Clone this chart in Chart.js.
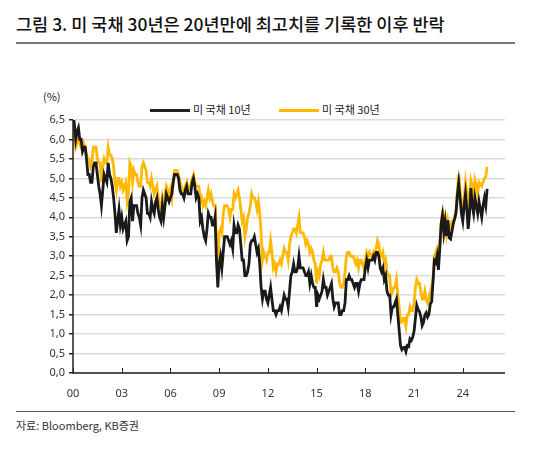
<!DOCTYPE html>
<html><head><meta charset="utf-8">
<script src="https://cdn.jsdelivr.net/npm/chart.js@4"></script>
<style>
body{margin:0;width:550px;height:455px;background:#fff;font-family:"Noto Sans CJK KR","Noto Sans",sans-serif;position:relative;overflow:hidden}
.t{position:absolute;white-space:nowrap;color:#222}
#wrap{position:absolute;left:0;top:0;width:550px;height:455px}
</style></head><body>
<div class="t" style="left:16px;top:11px;font-size:17.5px;font-weight:500;color:#111">그림 3. 미 국채 30년은 20년만에 최고치를 기록한 이후 반락</div>
<div style="position:absolute;left:16px;top:42px;width:499px;height:1.5px;background:#777"></div>
<div class="t" style="left:43px;top:88px;font-size:11px">(%)</div>
<div style="position:absolute;left:150px;top:109px;width:40px;height:3px;background:#222"></div>
<div class="t" style="left:193px;top:101px;font-size:11px">미 국채 10년</div>
<div style="position:absolute;left:279px;top:109px;width:40px;height:3px;background:#ffb900"></div>
<div class="t" style="left:322px;top:101px;font-size:11px">미 국채 30년</div>
<div style="position:absolute;left:16px;top:411px;width:499px;height:1px;background:#555"></div>
<div class="t" style="left:16px;top:417px;font-size:11px;color:#333">자료: Bloomberg, KB증권</div>
<div id="wrap"><canvas id="c" width="550" height="455"></canvas></div>
<script>
const startYear = 2000;
const y10Monthly = [
6.7,6.4,6.0,6.2,6.3,6.0,6.0,5.7,5.8,5.8,5.5,5.1,
5.1,4.9,4.9,5.3,5.4,5.4,5.1,4.8,4.6,4.3,4.7,5.1,
5.0,4.9,5.4,5.1,5.0,4.8,4.5,4.1,3.6,3.9,4.2,3.8,
4.0,3.7,3.8,3.9,3.4,3.5,4.4,4.5,3.9,4.3,4.3,4.3,
4.1,4.0,3.8,4.5,4.7,4.6,4.5,4.1,4.1,4.0,4.4,4.2,
4.1,4.4,4.5,4.2,4.0,3.9,4.3,4.0,4.3,4.6,4.5,4.4,
4.5,4.6,4.9,5.1,5.1,5.1,5.0,4.7,4.6,4.6,4.5,4.7,
4.8,4.6,4.6,4.6,4.9,5.0,4.8,4.5,4.6,4.5,3.9,4.0,
3.7,3.5,3.4,3.7,4.1,4.0,4.0,3.8,3.8,4.0,2.9,2.2,
2.8,3.0,2.7,3.1,3.5,3.5,3.5,3.4,3.3,3.4,3.2,3.8,
3.6,3.6,3.8,3.7,3.3,2.9,2.9,2.5,2.5,2.6,2.8,3.3,
3.4,3.4,3.5,3.3,3.1,3.2,2.8,2.2,1.9,2.1,2.1,1.9,
1.8,2.0,2.2,1.9,1.6,1.6,1.5,1.6,1.6,1.7,1.6,1.8,
2.0,1.9,1.9,1.7,2.1,2.5,2.6,2.8,2.6,2.6,2.7,3.0,
2.7,2.7,2.7,2.6,2.5,2.5,2.6,2.3,2.5,2.3,2.2,2.2,
1.7,2.0,1.9,2.0,2.1,2.4,2.2,2.2,2.0,2.1,2.2,2.3,
1.9,1.7,1.8,1.8,1.8,1.5,1.5,1.6,1.6,1.8,2.4,2.4,
2.5,2.4,2.4,2.3,2.2,2.3,2.3,2.1,2.3,2.4,2.4,2.4,
2.7,2.9,2.7,2.9,2.9,2.9,3.0,2.9,3.1,3.1,3.0,2.7,
2.6,2.7,2.4,2.5,2.1,2.0,2.0,1.5,1.7,1.7,1.8,1.9,
1.5,1.1,0.7,0.6,0.65,0.66,0.55,0.7,0.68,0.88,0.84,0.92,
1.07,1.4,1.74,1.63,1.58,1.45,1.22,1.3,1.49,1.55,1.44,1.51,
1.78,1.83,2.34,2.89,2.84,3.01,2.65,3.19,3.83,4.05,3.61,3.88,
3.52,3.92,3.47,3.44,3.64,3.84,3.96,4.11,4.57,4.88,4.5,4.1,
3.9,4.3,4.6,4.2,3.7,4.1,4.75,4.3,4.1,4.5,4.3,4.1,
4.4,4.2,4.0,4.3,4.5,4.3,4.73
];
const y30Monthly = [
6.6,6.2,5.8,5.9,6.0,5.9,5.8,5.7,5.9,5.8,5.6,5.5,
5.5,5.3,5.4,5.8,5.8,5.8,5.5,5.4,5.4,4.9,5.3,5.5,
5.4,5.4,5.8,5.6,5.6,5.5,5.3,4.9,4.7,5.0,5.0,4.8,
4.9,4.7,4.8,4.9,4.4,4.6,5.4,5.3,4.9,5.2,5.1,5.1,
4.9,4.8,4.8,5.3,5.4,5.3,5.2,4.9,4.9,4.8,5.0,4.8,
4.6,4.7,4.8,4.5,4.3,4.2,4.5,4.3,4.6,4.8,4.7,4.5,
4.7,4.5,4.9,5.2,5.2,5.2,5.1,4.9,4.8,4.7,4.6,4.8,
4.9,4.7,4.8,4.8,5.0,5.1,4.9,4.8,4.8,4.8,4.4,4.5,
4.3,4.4,4.3,4.5,4.7,4.5,4.6,4.4,4.3,4.3,3.4,2.7,
3.6,3.7,3.6,4.1,4.3,4.3,4.3,4.2,4.0,4.2,4.2,4.6,
4.5,4.6,4.7,4.5,4.2,3.9,4.0,3.5,3.7,4.0,4.1,4.3,
4.6,4.5,4.5,4.4,4.2,4.4,4.1,3.6,2.9,3.1,3.0,2.9,
3.1,3.1,3.4,3.1,2.7,2.8,2.6,2.8,2.8,2.9,2.8,3.0,
3.2,3.1,3.1,2.9,3.3,3.5,3.6,3.7,3.7,3.6,3.8,4.0,
3.6,3.6,3.6,3.5,3.3,3.4,3.3,3.1,3.2,3.1,2.9,2.8,
2.3,2.6,2.5,2.8,2.9,3.1,2.9,2.9,2.9,2.9,3.0,3.0,
2.7,2.6,2.6,2.7,2.6,2.3,2.2,2.2,2.3,2.6,3.0,3.1,
3.1,3.0,3.0,3.0,2.9,2.8,2.9,2.7,2.9,2.9,2.8,2.7,
2.9,3.1,3.0,3.1,3.0,3.0,3.1,3.0,3.2,3.4,3.3,3.0,
3.0,3.1,2.8,2.9,2.6,2.5,2.5,2.0,2.1,2.2,2.2,2.4,
2.0,1.7,1.3,1.3,1.4,1.4,1.2,1.5,1.5,1.7,1.6,1.6,
1.8,2.2,2.4,2.3,2.3,2.1,1.9,1.9,2.1,1.9,1.8,1.9,
2.1,2.2,2.4,3.0,3.1,3.2,3.0,3.3,3.8,4.2,3.8,4.0,
3.6,3.9,3.7,3.7,3.9,3.9,4.0,4.2,4.7,5.1,4.7,4.3,
4.1,4.5,4.9,4.6,4.4,4.6,4.95,4.8,4.6,4.95,4.8,4.6,
4.9,4.85,4.8,4.9,5.0,5.05,5.3
];
const xTickLabels = ['00','03','06','09','12','15','18','21','24'];
const xMax = 2026.6;

const toPts = arr => arr.map((v,i)=>({x:startYear+i/12, y:v}));
const tickMarks = {
  id:'tickMarks',
  afterDraw(ch){
    const c=ch.ctx, xs=ch.scales.x, a=ch.chartArea;
    c.save(); c.strokeStyle='#222'; c.lineWidth=1;
    xTickLabels.forEach(l=>{const px=Math.round(xs.getPixelForValue(2000+parseInt(l,10)))+0.5;
      c.beginPath(); c.moveTo(px,a.bottom); c.lineTo(px,a.bottom-5); c.stroke();});
    c.lineWidth=1.5; c.beginPath(); c.moveTo(a.left,a.top); c.lineTo(a.left,a.bottom); c.lineTo(a.right,a.bottom); c.stroke();
    c.restore();
  }
};
new Chart(document.getElementById('c'),{
  type:'line',
  data:{datasets:[
    {label:'미 국채 10년',data:toPts(y10Monthly),borderColor:'#1a1a1a',borderWidth:2.8,pointRadius:0,tension:0,order:1},
    {label:'미 국채 30년',data:toPts(y30Monthly),borderColor:'#ffb900',borderWidth:2.8,pointRadius:0,tension:0,order:2}
  ]},
  options:{
    responsive:false,animation:false,
    layout:{padding:{left:30,top:120,right:45,bottom:50}},
    plugins:{legend:{display:false},tooltip:{enabled:false}},
    scales:{
      x:{type:'linear',min:2000,max:xMax,
        afterBuildTicks(s){s.ticks=xTickLabels.map(l=>({value:2000+parseInt(l,10)}));},
        afterFit(s){s.height=32;},
        grid:{display:false},border:{display:false},
        ticks:{callback:v=>String(v-2000).padStart(2,'0'),color:'#333',font:{family:'Noto Sans',size:11},padding:6,maxRotation:0,autoSkip:false}},
      y:{min:0,max:6.5,
        afterFit(s){s.width=43;},
        ticks:{stepSize:0.5,callback:v=>v.toFixed(1).replace('.',','),color:'#333',font:{family:'Noto Sans',size:11},padding:4},
        grid:{color:'#dcdcdc',lineWidth:1.5,tickLength:4,tickColor:'#222'},border:{display:false}}
    }
  },
  plugins:[tickMarks]
});
</script></body></html>
